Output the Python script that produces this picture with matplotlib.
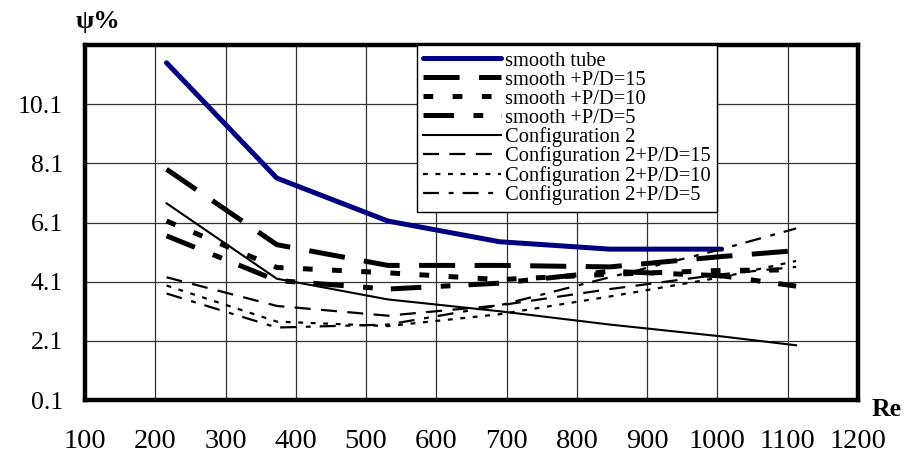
import matplotlib
matplotlib.use("Agg")
import matplotlib.pyplot as plt

# Reynolds numbers of the measurement points
re_vals = [216, 373, 531, 690, 847, 1006, 1112]

# psi [%] for each tube arrangement
smooth_tube = [11.5, 7.6, 6.15, 5.45, 5.2, 5.2]
smooth_pd15 = [7.9, 5.35, 4.65, 4.65, 4.6, 4.95, 5.15]
smooth_pd10 = [6.15, 4.58, 4.4, 4.17, 4.35, 4.48, 4.5]
smooth_pd5 = [5.65, 4.14, 3.85, 4.05, 4.45, 4.3, 3.95]
config2 = [6.75, 4.2, 3.5, 3.1, 2.65, 2.25, 1.95]
config2_pd15 = [4.25, 3.28, 2.95, 3.3, 3.85, 4.35, 4.6]
config2_pd10 = [3.97, 2.75, 2.6, 3.0, 3.6, 4.25, 4.8]
config2_pd5 = [3.7, 2.55, 2.65, 3.3, 4.25, 5.2, 5.9]

x_ticks = [100, 200, 300, 400, 500, 600, 700, 800, 900, 1000, 1100, 1200]
y_ticks = [0.1, 2.1, 4.1, 6.1, 8.1, 10.1]

plt.rcParams['font.family'] = ['Liberation Serif', 'DejaVu Serif']
plt.rcParams['lines.scale_dashes'] = False

fig = plt.figure(figsize=(9.18, 4.57), dpi=100)
ax = fig.add_axes([0.0926, 0.1247, 0.8420, 0.7768])

# thick curves: smooth tube family
ax.plot(re_vals[:len(smooth_tube)], smooth_tube, color='#000080', lw=3.6,
        label='smooth tube', solid_capstyle='round')
ax.plot(re_vals, smooth_pd15, color='black', lw=3.6, dashes=(26, 14),
        label='smooth +P/D=15')
ax.plot(re_vals, smooth_pd10, color='black', lw=3.6, dashes=(7, 14),
        label='smooth +P/D=10')
ax.plot(re_vals, smooth_pd5, color='black', lw=3.6, dashes=(22, 14, 7, 13),
        label='smooth +P/D=5')

# thin curves: configuration 2 family
ax.plot(re_vals, config2, color='black', lw=1.5, label='Configuration 2')
ax.plot(re_vals, config2_pd15, color='black', lw=1.6, dashes=(11.5, 7.5),
        label='Configuration 2+P/D=15')
ax.plot(re_vals, config2_pd10, color='black', lw=1.6, dashes=(3.5, 5.5),
        label='Configuration 2+P/D=10')
ax.plot(re_vals, config2_pd5, color='black', lw=1.6, dashes=(11.5, 7, 3.5, 6.5),
        label='Configuration 2+P/D=5')

ax.set_xlim(100, 1200)
ax.set_ylim(0.1, 12.1)
ax.set_xticks(x_ticks)
ax.set_xticklabels([str(v) for v in x_ticks], fontsize=20.5)
ax.set_yticks(y_ticks + [12.1])
ax.set_yticklabels([f"{v:.1f}" for v in y_ticks] + [''], fontsize=18.5)
ax.tick_params(axis='x', length=0, pad=21)
ax.tick_params(axis='y', length=0, pad=16)
ax.grid(True, color='#333333', lw=0.9)
ax.set_axisbelow(True)

for sp in ax.spines.values():
    sp.set_linewidth(3.2)
    sp.set_color('black')

leg = ax.legend(loc='upper left', bbox_to_anchor=(0.4295, 1.0), borderaxespad=0,
                fontsize=14.8, handlelength=3.8, handletextpad=0.2,
                labelspacing=-0.02, borderpad=0.3, fancybox=False,
                framealpha=1, edgecolor='black')
leg.get_frame().set_linewidth(1.0)

fig.text(0.107, 0.952, 'ψ%', fontsize=19, fontweight='bold', ha='center', va='center')
fig.text(0.966, 0.103, 'Re', fontsize=18.5, fontweight='bold', ha='center', va='center')

fig.savefig('out.png', dpi=100)
